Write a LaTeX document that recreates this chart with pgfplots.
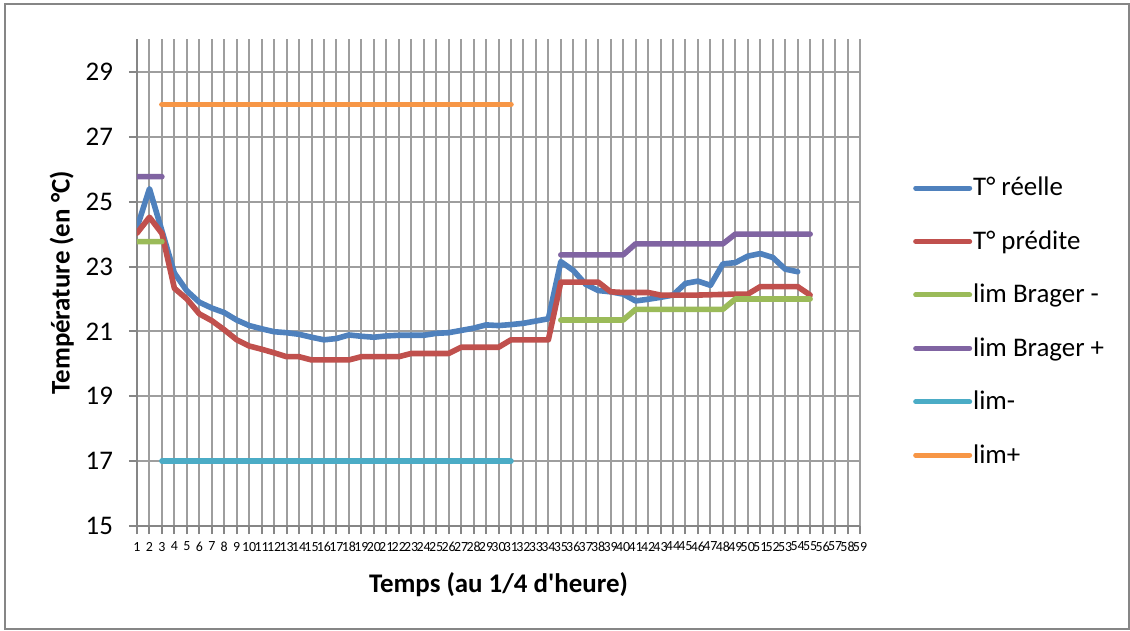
\documentclass[border=0pt]{standalone}
\usepackage{pgfplots}
\pgfplotsset{compat=1.18}
\usepackage{fontspec}
\setmainfont{Carlito}[Ligatures=TeXOff]
\definecolor{cblue}{RGB}{79,129,189}
\definecolor{cred}{RGB}{192,80,77}
\definecolor{cgreen}{RGB}{155,187,89}
\definecolor{cpurple}{RGB}{128,100,162}
\definecolor{caqua}{RGB}{75,172,198}
\definecolor{corange}{RGB}{247,150,70}
\definecolor{gridgray}{RGB}{158,158,158}
\definecolor{axgray}{RGB}{134,134,134}
\pgfplotstableread{
x y
1 24.2
2 25.4
3 24.1
4 22.8
5 22.25
6 21.9
7 21.72
8 21.58
9 21.35
10 21.18
11 21.08
12 20.99
13 20.96
14 20.91
15 20.82
16 20.74
17 20.78
18 20.89
19 20.85
20 20.82
21 20.86
22 20.88
23 20.88
24 20.88
25 20.94
26 20.96
27 21.03
28 21.1
29 21.2
30 21.18
31 21.21
32 21.25
33 21.32
34 21.39
35 23.15
36 22.88
37 22.45
38 22.26
39 22.22
40 22.15
41 21.94
42 21.99
43 22.05
44 22.12
45 22.48
46 22.55
47 22.42
48 23.08
49 23.12
50 23.32
51 23.4
52 23.28
53 22.92
54 22.84
}\reelle
\pgfplotstableread{
x y
1 24.03
2 24.52
3 24.02
4 22.33
5 22.0
6 21.54
7 21.33
8 21.05
9 20.74
10 20.55
11 20.45
12 20.34
13 20.22
14 20.22
15 20.12
16 20.12
17 20.12
18 20.12
19 20.22
20 20.22
21 20.22
22 20.22
23 20.32
24 20.32
25 20.32
26 20.32
27 20.51
28 20.51
29 20.51
30 20.51
31 20.74
32 20.74
33 20.74
34 20.74
35 22.52
36 22.52
37 22.52
38 22.52
39 22.22
40 22.2
41 22.2
42 22.2
43 22.12
44 22.12
45 22.12
46 22.12
47 22.13
48 22.14
49 22.15
50 22.15
51 22.38
52 22.38
53 22.38
54 22.38
55 22.12
}\predite
\begin{document}
\begin{tikzpicture}
\useasboundingbox (-68.5bp,-52.5bp) rectangle (496.5bp,263bp);
\draw[axgray, line width=0.75bp] (-66bp,-51.5bp) rectangle (496bp,261bp);
\begin{axis}[
  at={(0,0)}, anchor=south west,
  scale only axis, width=361.5bp, height=243.25bp,
  xmin=1, xmax=59, ymin=15, ymax=30,
  xtick={1,...,59}, ytick={15,17,...,29},
  grid=major, major grid style={gridgray, line width=1bp},
  axis x line*=bottom, axis y line*=left,
  axis line style={axgray, line width=1bp, -},
  tick align=outside, major tick length=4bp,
  tick style={axgray, line width=1bp},
  /pgf/number format/assume math mode=true,
  yticklabel style={font=\fontsize{13.5}{15}\selectfont, xshift=-4.5bp},
  xticklabel style={font=\fontsize{7}{8}\selectfont, yshift=-0.5bp},
  every axis y label/.style={at={(axis description cs:-0.104,0.5)}, rotate=90, anchor=center, font=\bfseries\fontsize{13.5}{15}\selectfont},
  every axis x label/.style={at={(axis description cs:0.5,-0.12)}, anchor=center, font=\bfseries\fontsize{13.5}{15}\selectfont},
  ylabel={Température (en °C)},
  xlabel={Temps (au 1/4 d'heure)},
  legend cell align=left,
  legend style={at={(axis description cs:1.073,0.726)}, anchor=north west, draw=none, fill=none, inner sep=0pt, row sep=11.9bp, font=\fontsize{13.5}{15}\selectfont, nodes={inner xsep=0.5bp}},
  legend image code/.code={\draw[#1, line width=2.5bp, line cap=round] (0bp,0bp) -- (27bp,0bp);},
  every axis plot/.append style={line width=2.8bp, line cap=round, line join=round, mark=none},
]
\addplot[cblue] table {\reelle};
\addlegendentry{T° réelle}
\addplot[cred] table {\predite};
\addlegendentry{T° prédite}
\addplot[cgreen, unbounded coords=jump] coordinates {(1,23.77) (2,23.77) (3,23.77) (4,nan) (35,21.35) (36,21.35) (37,21.35) (38,21.35) (39,21.35) (40,21.35) (41,21.68) (42,21.68) (43,21.68) (44,21.68) (45,21.68) (46,21.68) (47,21.68) (48,21.68) (49,22.0) (50,22.0) (51,22.0) (52,22.0) (53,22.0) (54,22.0) (55,22.0)};
\addlegendentry{lim Brager -}
\addplot[cpurple, unbounded coords=jump] coordinates {(1,25.77) (2,25.77) (3,25.77) (4,nan) (35,23.36) (36,23.36) (37,23.36) (38,23.36) (39,23.36) (40,23.36) (41,23.7) (42,23.7) (43,23.7) (44,23.7) (45,23.7) (46,23.7) (47,23.7) (48,23.7) (49,24.0) (50,24.0) (51,24.0) (52,24.0) (53,24.0) (54,24.0) (55,24.0)};
\addlegendentry{lim Brager +}
\addplot[caqua] coordinates {(3,17) (4,17) (5,17) (6,17) (7,17) (8,17) (9,17) (10,17) (11,17) (12,17) (13,17) (14,17) (15,17) (16,17) (17,17) (18,17) (19,17) (20,17) (21,17) (22,17) (23,17) (24,17) (25,17) (26,17) (27,17) (28,17) (29,17) (30,17) (31,17)};
\addlegendentry{lim-}
\addplot[corange] coordinates {(3,28) (4,28) (5,28) (6,28) (7,28) (8,28) (9,28) (10,28) (11,28) (12,28) (13,28) (14,28) (15,28) (16,28) (17,28) (18,28) (19,28) (20,28) (21,28) (22,28) (23,28) (24,28) (25,28) (26,28) (27,28) (28,28) (29,28) (30,28) (31,28)};
\addlegendentry{lim+}
\end{axis}
\end{tikzpicture}
\end{document}
